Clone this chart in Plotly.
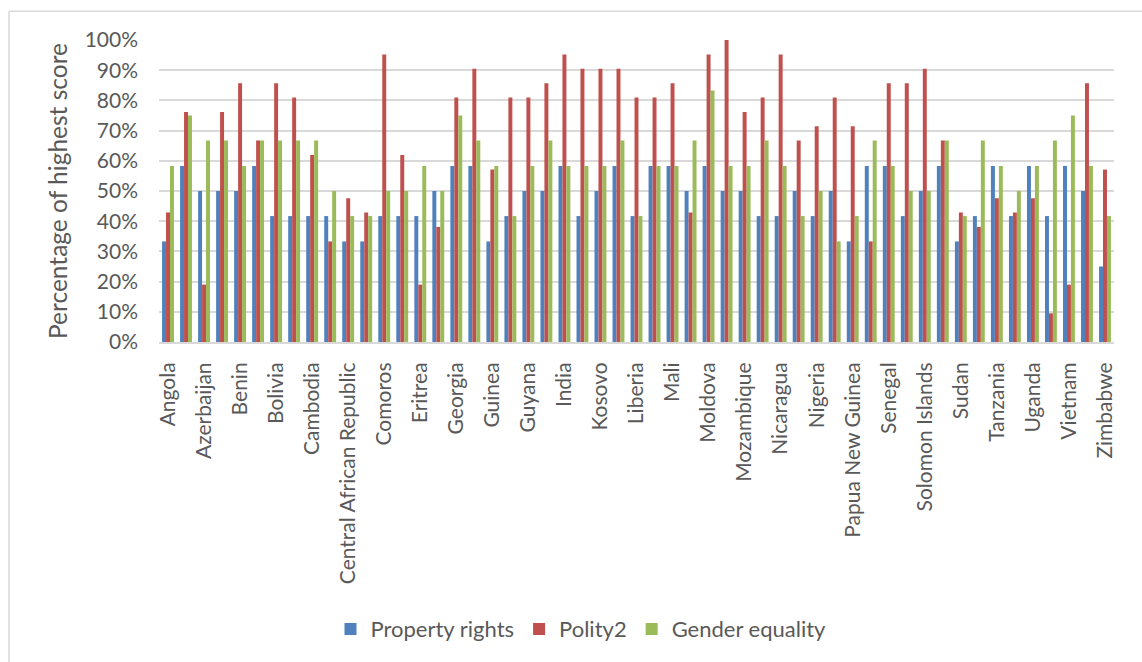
import numpy as np
import plotly.graph_objects as go

# Labelled countries (every other group on the axis carries a label)
countries = [
    "Angola", "Azerbaijan", "Benin", "Bolivia", "Cambodia",
    "Central African Republic", "Comoros", "Eritrea", "Georgia", "Guinea",
    "Guyana", "India", "Kosovo", "Liberia", "Mali", "Moldova", "Mozambique",
    "Nicaragua", "Nigeria", "Papua New Guinea", "Senegal", "Solomon Islands",
    "Sudan", "Tanzania", "Uganda", "Vietnam", "Zimbabwe",
]

# Scores as a share of the highest possible score (53 country groups)
property_rights = [
    0.333, 0.583, 0.500, 0.500, 0.500, 0.583, 0.417, 0.417, 0.417, 0.417,
    0.333, 0.333, 0.417, 0.417, 0.417, 0.500, 0.583, 0.583, 0.333, 0.417,
    0.500, 0.500, 0.583, 0.417, 0.500, 0.583, 0.417, 0.583, 0.583, 0.500,
    0.583, 0.500, 0.500, 0.417, 0.417, 0.500, 0.417, 0.500, 0.333, 0.583,
    0.583, 0.417, 0.500, 0.583, 0.333, 0.417, 0.583, 0.417, 0.583, 0.417,
    0.583, 0.500, 0.250,
]
polity2 = [
    0.429, 0.762, 0.190, 0.762, 0.857, 0.667, 0.857, 0.810, 0.619, 0.333,
    0.476, 0.429, 0.952, 0.619, 0.190, 0.381, 0.810, 0.905, 0.571, 0.810,
    0.810, 0.857, 0.952, 0.905, 0.905, 0.905, 0.810, 0.810, 0.857, 0.429,
    0.952, 1.000, 0.762, 0.810, 0.952, 0.667, 0.714, 0.810, 0.714, 0.333,
    0.857, 0.857, 0.905, 0.667, 0.429, 0.381, 0.476, 0.429, 0.476, 0.095,
    0.190, 0.857, 0.571,
]
gender_equality = [
    0.583, 0.750, 0.667, 0.667, 0.583, 0.667, 0.667, 0.667, 0.667, 0.500,
    0.417, 0.417, 0.500, 0.500, 0.583, 0.500, 0.750, 0.667, 0.583, 0.417,
    0.583, 0.667, 0.583, 0.583, 0.583, 0.667, 0.417, 0.583, 0.583, 0.667,
    0.833, 0.583, 0.583, 0.667, 0.583, 0.417, 0.500, 0.333, 0.417, 0.667,
    0.583, 0.500, 0.500, 0.667, 0.417, 0.667, 0.583, 0.500, 0.583, 0.667,
    0.750, 0.583, 0.417,
]

series_names = ["Property rights", "Polity2", "Gender equality"]
series_colors = ["#4f81bd", "#c0504d", "#9bbb59"]

x = np.arange(len(property_rights))
FONT = "Lato, Calibri, sans-serif"
TEXT = "#595959"
GRID = "#d9d9d9"

fig = go.Figure()
for name, vals, color in zip(series_names,
                             [property_rights, polity2, gender_equality],
                             series_colors):
    fig.add_trace(go.Bar(
        x=x, y=vals, name=name,
        marker=dict(color=color, line=dict(width=0)),
    ))

W, H = 1142, 662
L, R, T, B = 159, 28, 40, 318
pw, ph = W - L - R, H - T - B

fig.update_layout(
    width=W, height=H,
    margin=dict(l=L, r=R, t=T, b=B),
    paper_bgcolor="white", plot_bgcolor="white",
    barmode="group", bargap=0.34, bargroupgap=0,
    font=dict(family=FONT, color=TEXT, size=21),
    showlegend=True,
    legend=dict(
        orientation="h", x=(581 - L) / pw, xanchor="center",
        y=(H - B - 633) / ph, yanchor="middle",
        font=dict(size=22, color=TEXT), itemwidth=30,
        traceorder="normal",
    ),
    xaxis=dict(
        range=[-0.5, len(x) - 0.5],
        tickmode="array", tickvals=x[::2], ticktext=countries,
        tickangle=-90, showgrid=False, zeroline=False,
        showline=True, linecolor=GRID, linewidth=2,
        ticks="", ticklabelstandoff=10,
        tickfont=dict(size=21, color=TEXT),
    ),
    yaxis=dict(
        range=[0, 1], dtick=0.1, tickformat=".0%",
        showgrid=True, gridcolor=GRID, gridwidth=2,
        zeroline=False, showline=False, ticks="",
        ticklabelstandoff=20,
        tickfont=dict(size=21, color=TEXT),
        title=dict(text="Percentage of highest score",
                   font=dict(size=24.5, color=TEXT), standoff=10),
    ),
    shapes=[
        # chart-area frame (top and left edges)
        dict(type="line", xref="paper", yref="paper",
             x0=(9 - L) / pw, x1=(W + 5 - L) / pw,
             y0=(H - B - 11) / ph, y1=(H - B - 11) / ph,
             line=dict(color=GRID, width=1.5)),
        dict(type="line", xref="paper", yref="paper",
             x0=(9 - L) / pw, x1=(9 - L) / pw,
             y0=(H - B - 11) / ph, y1=(H - B - H - 5) / ph,
             line=dict(color=GRID, width=1.5)),
    ],
)

fig.write_html("out.html")
